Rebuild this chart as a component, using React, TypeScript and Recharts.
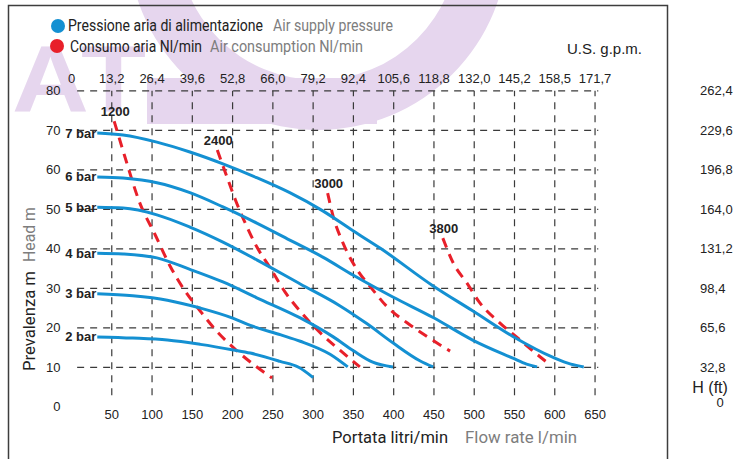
import { Line, LineChart, ReferenceLine, XAxis, YAxis } from "recharts";

// flow axis (l/min) and its U.S. gpm twin on top
const flowTicks = [50, 100, 150, 200, 250, 300, 350, 400, 450, 500, 550, 600, 650];
const gpmTicks = [0, 50, 100, 150, 200, 250, 300, 350, 400, 450, 500, 550, 600, 650];
const gpmLabels = ["0", "13,2", "26,4", "39,6", "52,8", "66,0", "79,2", "92,4", "105,6", "118,8", "132,0", "145,2", "158,5", "171,7"];

// head axis (m) and feet on the right
const headTicks = [0, 10, 20, 30, 40, 50, 60, 70, 80];
const ftLabels = ["0", "32,8", "65,6", "98,4", "131,2", "164,0", "196,8", "229,6", "262,4"];

// air supply pressure curves [l/min, m]
const bar2 = [[32, 17.7], [76, 17.4], [119, 16.9], [160, 15.8], [201, 14.4], [222, 13.6], [259, 11.5], [282, 10.0], [300, 7.4]];
const bar3 = [[32, 28.6], [76, 28.1], [119, 27.0], [160, 25.0], [201, 22.4], [222, 20.6], [260, 18.2], [284, 16.6], [321, 13.3], [343, 10.1]];
const bar4 = [[32, 38.9], [64, 38.7], [106, 37.7], [147, 34.8], [188, 31.6], [230, 27.6], [284, 22.5], [325, 17.7], [350, 14.2], [374, 11.3], [399, 10.1]];
const bar5 = [[32, 50.5], [64, 50.3], [106, 48.6], [147, 45.5], [188, 41.7], [230, 37.2], [284, 31.1], [333, 25.6], [367, 21.0], [399, 16.2], [433, 11.6], [449, 10.1]];
const bar6 = [[32, 58.2], [64, 57.9], [106, 56.7], [147, 54.2], [188, 50.6], [230, 46.5], [271, 42.2], [312, 37.9], [350, 33.3], [399, 27.8], [449, 22.6], [498, 16.9], [548, 12.3], [565, 10.8], [578, 10.1]];
const bar7 = [[32, 69.3], [64, 68.8], [106, 67.0], [147, 64.5], [188, 61.5], [230, 58.0], [271, 54.2], [312, 49.6], [350, 44.5], [383, 40.2], [449, 30.6], [498, 24.3], [548, 17.8], [598, 12.5], [620, 10.8], [636, 10.1]];

// air consumption Nl/min
const air1200 = [[53, 72.3], [66, 63.5], [85, 51.5], [104, 43.5], [123, 35.4], [140, 29.6], [160, 24.2], [180, 19.2], [203, 14.6], [228, 10.4], [249, 7.3]];
const air2400 = [[181, 65.0], [193, 58.2], [205, 51.6], [218, 45.5], [230, 40.5], [246, 35.4], [265, 29.1], [286, 23.7], [309, 18.7], [334, 14.2], [358, 10.1]];
const air3000 = [[318, 54.1], [325, 48.1], [337, 41.5], [355, 34.6], [371, 30.4], [392, 25.3], [417, 21.2], [442, 17.7], [470, 14.1]];
const air3800 = [[461, 42.7], [474, 36.4], [491, 31.3], [507, 26.3], [532, 21.2], [557, 16.9], [582, 12.6], [590, 11.3]];

const pressure = [
  { name: "2 bar", pts: bar2 },
  { name: "3 bar", pts: bar3 },
  { name: "4 bar", pts: bar4 },
  { name: "5 bar", pts: bar5 },
  { name: "6 bar", pts: bar6 },
  { name: "7 bar", pts: bar7 },
];
const consumption = [
  { name: "1200", pts: air1200 },
  { name: "2400", pts: air2400 },
  { name: "3000", pts: air3000 },
  { name: "3800", pts: air3800 },
];

// span of the secondary axes (gpm on top, feet on the right)
const twinSpan = [{ q: 0, h: 0 }, { q: 650, h: 80 }];

const BLUE = "#1490d2";
const RED = "#e8202a";
const GRID = "#3a3a3a";
const INK = "#222";
const GREY = "#7d7d7d";
const ARIAL = "'Liberation Sans', Arial, sans-serif";
const NARROW = "'Liberation Sans Narrow', Roboto, sans-serif";
const LAV = "#e6d6ee";

const toPts = (a: number[][]) => a.map(([q, h]) => ({ q, h }));

const firstLabel = (text: string, kind: "bar" | "air") => (p: any) => {
  if (p.index !== 0) return null;
  if (kind === "bar")
    return (
      <text x={p.x - 1} y={p.y} dy="0.35em" textAnchor="end" fontSize={13} fontWeight="bold" fontFamily={ARIAL} fill={INK}>
        {text}
      </text>
    );
  return (
    <text x={p.x + 1} y={p.y - 10} dy="0.35em" textAnchor="middle" fontSize={13} fontWeight="bold" fontFamily={ARIAL} fill={INK}>
      {text}
    </text>
  );
};

const FtTick = (p: any) => {
  const v = p.payload.value;
  if (v === 0)
    return (
      <g fontFamily={ARIAL} fill={INK}>
        <text x={p.x + 10} y={p.y - 19} dy="0.35em" textAnchor="middle" fontSize={16}>H (ft)</text>
        <text x={p.x + 20} y={p.y - 4} dy="0.35em" textAnchor="middle" fontSize={13}>0</text>
      </g>
    );
  return (
    <text x={p.x} y={p.y} dy="0.35em" textAnchor="start" fontSize={13} fontFamily={ARIAL} fill={INK}>
      {ftLabels[v / 10]}
    </text>
  );
};

const tickStyle = { fill: INK, fontSize: 13, fontFamily: ARIAL };

export default function App() {
  return (
    <div style={{ position: "absolute", left: 0, top: 0, width: 747, height: 459, background: "#fff", overflow: "hidden" }}>
      {/* watermark */}
      <svg width={747} height={459} style={{ position: "absolute", left: 0, top: 0 }}>
        <path
          fillRule="evenodd"
          fill={LAV}
          d="M 128 -60 A 190 190 0 1 0 508 -60 A 190 190 0 1 0 128 -60 Z M 178 -60 A 140 140 0 1 0 458 -60 A 140 140 0 1 0 178 -60 Z"
        />
        <rect x={147} y={78} width={230} height={46} fill={LAV} />
        <text x={12} y={112} fontSize={95} fontWeight="bold" fontFamily={ARIAL} fill={LAV} textLength={134} lengthAdjust="spacingAndGlyphs">
          AT
        </text>
      </svg>

      <div style={{ position: "absolute", left: 0, top: 0 }}>
        <LineChart width={747} height={459} margin={{ top: 60.8, right: 13.9, bottom: 32.2, left: 51.5 }}>
          <XAxis
            xAxisId="bottom"
            type="number"
            dataKey="q"
            domain={[0, 660]}
            ticks={flowTicks}
            interval={0}
            axisLine={false}
            tickLine={false}
            tickSize={0}
            tickMargin={3}
            height={20}
            tick={tickStyle}
          />
          <XAxis
            xAxisId="top"
            orientation="top"
            type="number"
            dataKey="q"
            domain={[0, 660]}
            allowDataOverflow
            ticks={gpmTicks}
            interval={0}
            axisLine={false}
            tickLine={false}
            height={30}
            tick={tickStyle}
            tickFormatter={(v: number) => gpmLabels[v / 50]}
          />
          <YAxis
            yAxisId="left"
            type="number"
            domain={[0, 80]}
            ticks={headTicks}
            interval={0}
            axisLine={false}
            tickLine={false}
            tickMargin={5}
            width={20}
            tick={tickStyle}
          />
          <YAxis
            yAxisId="ft"
            orientation="right"
            type="number"
            domain={[0, 80]}
            allowDataOverflow
            ticks={headTicks}
            interval={0}
            axisLine={false}
            tickLine={false}
            tickSize={0}
            tickMargin={97}
            width={130}
            tick={<FtTick />}
          />

          {headTicks.slice(1).map((h) => (
            <ReferenceLine
              key={"h" + h}
              xAxisId="bottom"
              yAxisId="left"
              segment={[{ x: 7, y: h }, { x: 654, y: h }]}
              stroke={GRID}
              strokeWidth={1.2}
              strokeDasharray="7 6"
            />
          ))}
          {flowTicks.map((q) => (
            <ReferenceLine
              key={"v" + q}
              xAxisId="bottom"
              yAxisId="left"
              segment={[{ x: q, y: 2.9 }, { x: q, y: 80 }]}
              stroke={GRID}
              strokeWidth={1.2}
              strokeDasharray="7 6"
            />
          ))}

          {/* invisible series so the twin axes get drawn */}
          <Line
            xAxisId="top"
            yAxisId="ft"
            data={twinSpan}
            dataKey="h"
            stroke="none"
            dot={false}
            activeDot={false}
            isAnimationActive={false}
          />

          {consumption.map((c) => (
            <Line
              key={c.name}
              xAxisId="bottom"
              yAxisId="left"
              data={toPts(c.pts)}
              dataKey="h"
              type="monotone"
              stroke={RED}
              strokeWidth={3}
              strokeDasharray="10 7"
              dot={false}
              isAnimationActive={false}
              label={firstLabel(c.name, "air")}
            />
          ))}
          {pressure.map((s) => (
            <Line
              key={s.name}
              xAxisId="bottom"
              yAxisId="left"
              data={toPts(s.pts)}
              dataKey="h"
              type="monotone"
              stroke={BLUE}
              strokeWidth={3}
              dot={false}
              isAnimationActive={false}
              label={firstLabel(s.name, "bar")}
            />
          ))}
        </LineChart>
      </div>

      {/* frame, legend and titles */}
      <svg width={747} height={459} style={{ position: "absolute", left: 0, top: 0, pointerEvents: "none" }}>
        <rect x={8.5} y={5.5} width={659} height={470} fill="none" stroke="#3d3d3d" strokeWidth={1.5} />

        <circle cx={58} cy={26} r={7} fill={BLUE} />
        <circle cx={57} cy={46} r={7} fill={RED} />
        <g fontFamily={NARROW} fontSize={16}>
          <text x={68} y={31} fill={INK} textLength={195} lengthAdjust="spacingAndGlyphs">Pressione aria di alimentazione</text>
          <text x={273} y={31} fill={GREY} textLength={120} lengthAdjust="spacingAndGlyphs">Air supply pressure</text>
          <text x={70} y={52} fill={INK} textLength={132} lengthAdjust="spacingAndGlyphs">Consumo aria Nl/min</text>
          <text x={210} y={52} fill={GREY} textLength={153} lengthAdjust="spacingAndGlyphs">Air consumption Nl/min</text>
        </g>

        <text x={567} y={54} fontFamily={ARIAL} fontSize={15} fill={INK} textLength={75} lengthAdjust="spacingAndGlyphs">U.S. g.p.m.</text>

        <g fontFamily={NARROW} fontSize={17}>
          <text x={332} y={443} fill={INK} textLength={116} lengthAdjust="spacingAndGlyphs">Portata litri/min</text>
          <text x={465} y={443} fill={GREY} textLength={112} lengthAdjust="spacingAndGlyphs">Flow rate l/min</text>
          <text transform="translate(35,371) rotate(-90)" fill={INK} textLength={100} lengthAdjust="spacingAndGlyphs">Prevalenza m</text>
          <text transform="translate(35,262) rotate(-90)" fill={GREY} textLength={55} lengthAdjust="spacingAndGlyphs">Head m</text>
        </g>
      </svg>
    </div>
  );
}
